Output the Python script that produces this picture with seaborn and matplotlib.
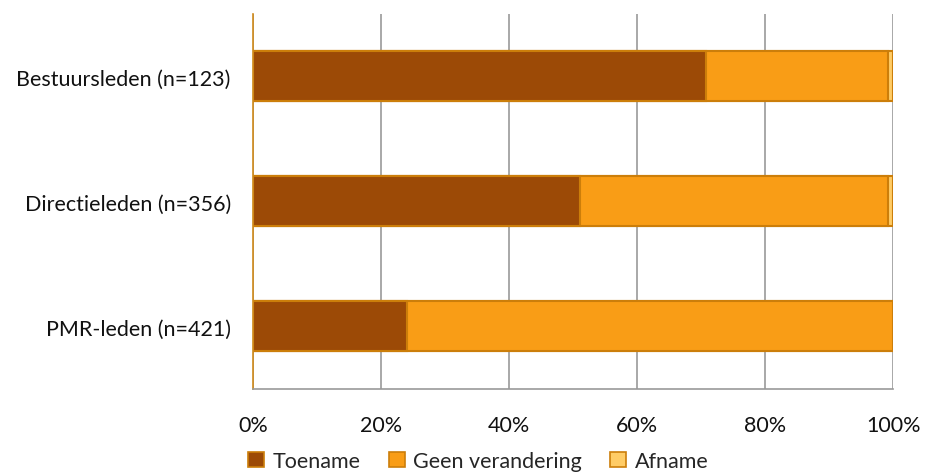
import numpy as np
import pandas as pd
import seaborn as sns
import matplotlib.pyplot as plt
from matplotlib.patches import Patch

# data (percent of respondents)
groups = ["Bestuursleden (n=123)", "Directieleden (n=356)", "PMR-leden (n=421)"]
toename = [70.7, 51.1, 24.0]
geen_verandering = [28.5, 48.1, 76.0]
afname = [0.8, 0.8, 0.0]

series = ["Toename", "Geen verandering", "Afname"]
colors = ["#9C4A06", "#F99D16", "#FFCC66"]
edge = "#CC7E0A"

sns.set_style("white")
plt.rcParams['font.family'] = ['Lato', 'DejaVu Sans']

df = pd.DataFrame({"group": groups, "Toename": toename,
                   "Geen verandering": geen_verandering, "Afname": afname})
# cumulative sums so the stacks can be drawn back to front
df["c1"] = df["Toename"]
df["c2"] = df["c1"] + df["Geen verandering"]
df["c3"] = df["c2"] + df["Afname"]

fig = plt.figure(figsize=(9.25, 4.77), dpi=100)
ax = fig.add_axes([0.2735, 0.1824, 0.692, 0.7862])

for col, c in zip(["c3", "c2", "c1"], colors[::-1]):
    sns.barplot(data=df, x=col, y="group", color=c, width=0.4,
                edgecolor=edge, linewidth=1.5, saturation=1, ax=ax)

ax.set_xlim(0, 100)
ax.set_ylim(2.5, -0.5)
ax.set_xticks(np.arange(0, 101, 20))
ax.set_xticklabels([f"{v}%" for v in range(0, 101, 20)])
ax.xaxis.grid(True, color="#999999", linewidth=1.2)
ax.set_axisbelow(True)
ax.set_xlabel("")
ax.set_ylabel("")
ax.tick_params(axis="x", length=0, pad=19, labelsize=15.5, colors="#111111")
ax.tick_params(axis="y", length=0, pad=16, labelsize=15.5, colors="#111111")

for s in ["top", "right"]:
    ax.spines[s].set_visible(False)
ax.spines["left"].set_color("#D08A1A")
ax.spines["left"].set_linewidth(1.2)
ax.spines["bottom"].set_color("#999999")
ax.spines["bottom"].set_linewidth(1.2)

handles = [Patch(facecolor=c, edgecolor=edge, linewidth=1.2) for c in colors]
fig.legend(handles, series, loc="lower center", ncol=3, frameon=False,
           bbox_to_anchor=(0.517, -0.03), fontsize=15.5, handlelength=0.75,
           handleheight=0.75, handletextpad=0.4, columnspacing=1.3)

fig.savefig("out.png", dpi=100)
